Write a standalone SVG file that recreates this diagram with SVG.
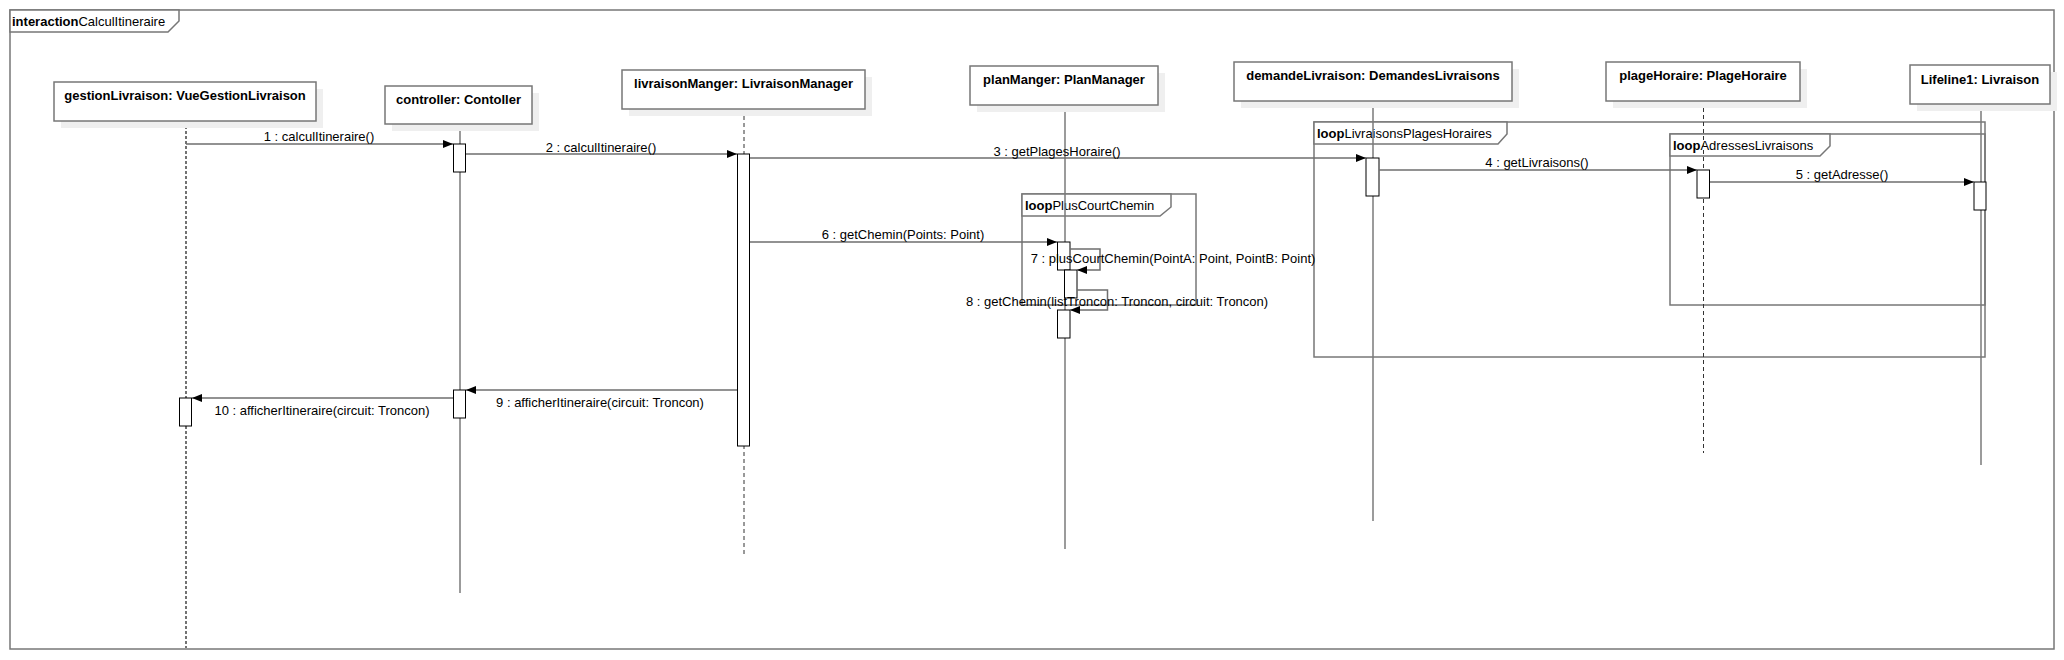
<svg xmlns="http://www.w3.org/2000/svg" width="2064" height="660" viewBox="0 0 2064 660">
<style>
text{font-family:"Liberation Sans",Arial,sans-serif;font-size:13px;fill:#000}
.b{font-weight:bold}
.mid{text-anchor:middle}
.frame{fill:none;stroke:#777;stroke-width:1.5}
.lbl{fill:#fff;stroke:#777;stroke-width:1.5}
.box{fill:#fff;stroke:#777;stroke-width:1.5}
.sh{fill:#efefef}
.ll{stroke:#7a7a7a;stroke-width:1.5;fill:none}
.dot{stroke:#444;stroke-width:1.5;stroke-dasharray:3,2;fill:none}
.dash{stroke:#333;stroke-width:1;stroke-dasharray:4,3;fill:none}
.act{fill:#fff;stroke:#000;stroke-width:1}
.msg{stroke:#6e6e6e;stroke-width:1.5;fill:none;marker-end:url(#arr)}
</style>
<defs>
<marker id="arr" markerUnits="userSpaceOnUse" markerWidth="11" markerHeight="9" refX="10" refY="4" orient="auto">
<path d="M0,0 L10,4 L0,8 z" fill="#000"/>
</marker>
</defs>
<rect width="2064" height="660" fill="#fff"/>
<g id="frame">
<rect class="frame" x="10" y="10" width="2044" height="639"/>
<path class="lbl" d="M10,10 H179 V21 L168,32 H10 Z"/>
<text x="12" y="26"><tspan class="b">interaction</tspan>CalculItineraire</text>
</g>
<g id="loops">
<g id="loopPlusCourtChemin">
<rect class="frame" x="1022" y="194" width="174" height="111"/>
<path class="lbl" d="M1022,194 H1171 V207 L1160,216 H1022 Z"/>
<text x="1025" y="210"><tspan class="b">loop</tspan>PlusCourtChemin</text>
</g>
<g id="loopLivraisonsPlagesHoraires">
<rect class="frame" x="1314" y="122" width="671" height="235"/>
<path class="lbl" d="M1314,122 H1507 V134 L1498,144 H1314 Z"/>
<text x="1317" y="138"><tspan class="b">loop</tspan>LivraisonsPlagesHoraires</text>
</g>
<g id="loopAdressesLivraisons">
<rect class="frame" x="1670" y="134" width="315" height="171"/>
<path class="lbl" d="M1670,134 H1830 V146 L1820,156 H1670 Z"/>
<text x="1673" y="150"><tspan class="b">loop</tspan>AdressesLivraisons</text>
</g>
</g>
<g id="gestionLivraison">
<line class="dot" x1="186" y1="121" x2="186" y2="648"/>
<rect class="sh" x="61" y="89" width="262" height="39"/>
<rect class="box" x="54" y="82" width="262" height="39"/>
<text class="b mid" x="185" y="100">gestionLivraison: VueGestionLivraison</text>
<rect class="act" x="179.5" y="398" width="12" height="28"/>
</g>
<g id="controller">
<line class="ll" x1="460" y1="124" x2="460" y2="593"/>
<rect class="sh" x="392" y="93" width="147" height="38"/>
<rect class="box" x="385" y="86" width="147" height="38"/>
<text class="b mid" x="458.5" y="104">controller: Contoller</text>
<rect class="act" x="453.5" y="144" width="12" height="28"/>
<rect class="act" x="453.5" y="390" width="12" height="28"/>
</g>
<g id="livraisonManger">
<line class="dash" x1="744" y1="109" x2="744" y2="557"/>
<rect class="sh" x="629" y="77" width="243" height="39"/>
<rect class="box" x="622" y="70" width="243" height="39"/>
<text class="b mid" x="743.5" y="88">livraisonManger: LivraisonManager</text>
<rect class="act" x="737.5" y="154" width="12" height="292"/>
</g>
<g id="planManger">
<line class="ll" x1="1065" y1="105" x2="1065" y2="549"/>
<rect class="sh" x="977" y="73" width="188" height="39"/>
<rect class="box" x="970" y="66" width="188" height="39"/>
<text class="b mid" x="1064" y="84">planManger: PlanManager</text>
<rect class="act" x="1057.5" y="242" width="12.5" height="28"/>
<rect class="act" x="1064.5" y="270" width="12.5" height="28"/>
<rect class="act" x="1057.5" y="310" width="12.5" height="28"/>
</g>
<g id="demandeLivraison">
<line class="ll" x1="1373" y1="101" x2="1373" y2="521"/>
<rect class="sh" x="1241" y="69" width="278" height="39"/>
<rect class="box" x="1234" y="62" width="278" height="39"/>
<text class="b mid" x="1373" y="80">demandeLivraison: DemandesLivraisons</text>
<rect class="act" x="1366" y="158" width="13" height="38"/>
</g>
<g id="plageHoraire">
<line class="dash" x1="1703.5" y1="101" x2="1703.5" y2="453"/>
<rect class="sh" x="1613" y="69" width="194" height="39"/>
<rect class="box" x="1606" y="62" width="194" height="39"/>
<text class="b mid" x="1703" y="80">plageHoraire: PlageHoraire</text>
<rect class="act" x="1697" y="170" width="12.5" height="28"/>
</g>
<g id="lifeline1">
<line class="ll" x1="1981" y1="104" x2="1981" y2="465"/>
<rect class="sh" x="1917" y="72" width="140" height="39"/>
<rect class="box" x="1910" y="65" width="140" height="39"/>
<text class="b mid" x="1980" y="84">Lifeline1: Livraison</text>
<rect class="act" x="1974" y="182" width="12" height="28"/>
</g>
<g id="connectors">
<line class="msg" x1="186" y1="144" x2="453" y2="144"/>
<text class="mid" x="319" y="141">1 : calculItineraire()</text>
<line class="msg" x1="466" y1="154" x2="737" y2="154"/>
<text class="mid" x="601" y="152">2 : calculItineraire()</text>
<line class="msg" x1="750" y1="158" x2="1366" y2="158"/>
<text class="mid" x="1057" y="156">3 : getPlagesHoraire()</text>
<line class="msg" x1="1379" y1="170" x2="1697" y2="170"/>
<text class="mid" x="1537" y="167">4 : getLivraisons()</text>
<line class="msg" x1="1710" y1="182" x2="1974" y2="182"/>
<text class="mid" x="1842" y="179">5 : getAdresse()</text>
<line class="msg" x1="750" y1="242" x2="1057" y2="242"/>
<text class="mid" x="903" y="239">6 : getChemin(Points: Point)</text>
<polyline class="msg" points="1070,249 1100,249 1100,270 1077,270"/>
<text class="mid" x="1173" y="263">7 : plusCourtChemin(PointA: Point, PointB: Point)</text>
<polyline class="msg" points="1077,290 1107.5,290 1107.5,310 1070,310"/>
<text class="mid" x="1117" y="306">8 : getChemin(listTroncon: Troncon, circuit: Troncon)</text>
<line class="msg" x1="737" y1="390" x2="466" y2="390"/>
<text class="mid" x="600" y="407">9 : afficherItineraire(circuit: Troncon)</text>
<line class="msg" x1="453" y1="398" x2="192" y2="398"/>
<text class="mid" x="322" y="415">10 : afficherItineraire(circuit: Troncon)</text>
</g>
</svg>
